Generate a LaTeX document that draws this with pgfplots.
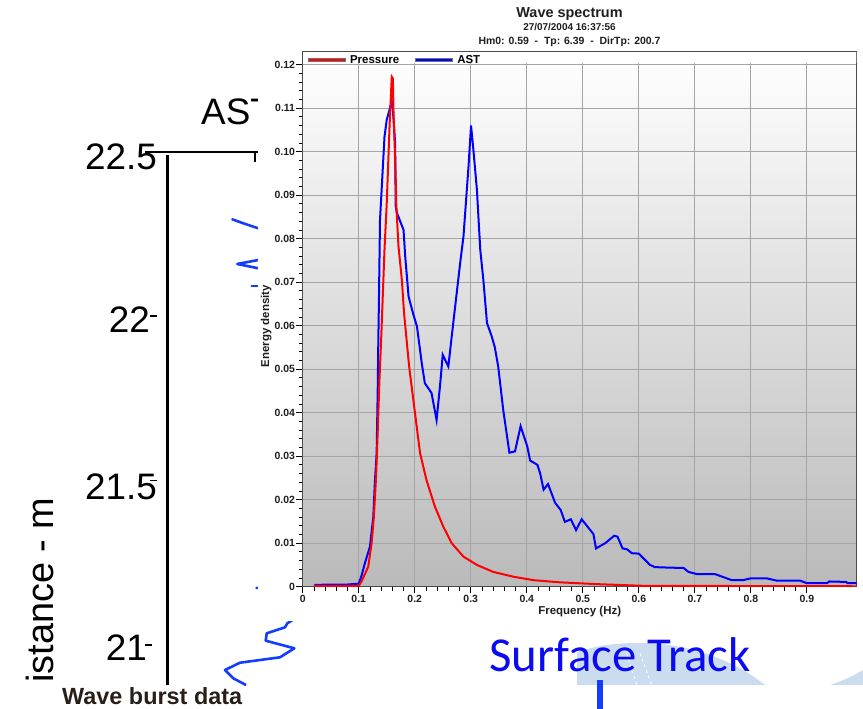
\documentclass[border=0pt]{standalone}
\usepackage{fontspec}
\setmainfont{Liberation Sans}
\newfontfamily\calibri{Carlito}
\usepackage{pgfplots}
\pgfplotsset{compat=1.18}
\definecolor{sqblue}{RGB}{20,60,255}
\definecolor{gridgray}{RGB}{165,165,165}
\definecolor{bggray}{RGB}{186,186,186}
\definecolor{lightblue}{RGB}{202,220,237}
\definecolor{txt}{RGB}{30,30,30}
\definecolor{burst}{RGB}{40,32,24}
\definecolor{surf}{RGB}{10,10,245}

\begin{document}
\begin{tikzpicture}[x=1bp,y=1bp]
\path[use as bounding box] (0,0) rectangle (863,709);
% ---- background slide ----
\fill[lightblue] (577,24) -- (577,57) .. controls (600,64) and (615,66) .. (640,66) .. controls (690,66) and (735,48) .. (765,24) -- cycle;
\fill[lightblue] (830,24) .. controls (845,29) and (855,34) .. (863,39) -- (863,24) -- cycle;
\draw[white, dashed, line width=0.8] (626.7,55.7) -- (636.7,24);
\draw[white, dashed, line width=0.8] (640,55.7) -- (651.7,24);
\fill[sqblue] (597,0) rectangle (603,29);
\node[anchor=base west, inner sep=0, text=surf, font=\calibri\fontsize{49}{49}\selectfont] at (489,37) {Surface Track};
\node[anchor=base west, inner sep=0, font=\fontsize{37}{37}\selectfont] at (201,584) {AST};
\node[rotate=90, anchor=base west, inner sep=0, font=\fontsize{38}{38}\selectfont] at (53,26) {istance - m};
\node[anchor=base west, inner sep=0, font=\bfseries\fontsize{23.5}{24}\selectfont, text=burst] at (62,4) {Wave burst data};

\begin{axis}[at={(0bp,0bp)}, anchor=south west, scale only axis, width=863bp, height=709bp,
  xmin=0, xmax=863, ymin=20.8054, ymax=22.9617, hide axis, clip=false]
  \addplot[sqblue, line width=2.6bp, line join=round, line cap=round] coordinates {(290,22.2470) (258.3,22.2673) (243.3,22.2825) (232.3,22.2947)};
  \addplot[sqblue, line width=2.6bp, line join=round, line cap=round] coordinates {(290,22.1831) (258.3,22.1709) (237.3,22.1588) (258.3,22.1457) (290,22.1344)};
  \addplot[sqblue, line width=2.6bp, line cap=round] coordinates {(290,22.0918) (251.7,22.0918)};
  \addplot[sqblue, line width=2.6bp, line cap=round] coordinates {(290,21.1825) (256.5,21.1734)};
  \addplot[sqblue, line width=2.6bp, line join=round] coordinates {(300,21.0912) (287.3,21.0660) (285,21.0538) (266.7,21.0356) (265.7,21.0131) (294.3,20.9900) (280,20.9626) (240,20.9462) (225,20.9240) (233.3,20.8987) (246,20.8783)};
  \draw[black, line width=2bp] (axis cs:145,22.5) -- (axis cs:300,22.5);
  \draw[black, line width=1.6bp] (axis cs:255,22.5) -- (axis cs:255,22.469);
  \draw[black, line width=2.2bp] (axis cs:167.5,22.4903) -- (axis cs:167.5,20.8783);
  \draw[black, line width=1.5bp] (axis cs:150,22) -- (axis cs:157,22);
  \draw[black, line width=1.5bp] (axis cs:150,21.5) -- (axis cs:157,21.5);
  \draw[black, line width=1.5bp] (axis cs:145,21) -- (axis cs:152,21);
  \node[anchor=east, inner sep=0, yshift=-5bp, font=\fontsize{37}{37}\selectfont] at (axis cs:157,22.5) {22.5};
  \node[anchor=east, inner sep=0, yshift=-3bp, font=\fontsize{37}{37}\selectfont] at (axis cs:150,22) {22};
  \node[anchor=east, inner sep=0, yshift=-6bp, font=\fontsize{37}{37}\selectfont] at (axis cs:157,21.5) {21.5};
  \node[anchor=east, inner sep=0, yshift=-3bp, font=\fontsize{37}{37}\selectfont] at (axis cs:147,21) {21};
\end{axis}

% ---- overlaid chart ----
\fill[white] (258,88) rectangle (863,709);
\node[anchor=base, inner sep=0, font=\bfseries\fontsize{14.5}{15}\selectfont, text=txt] at (569.5,691.5) {Wave spectrum};
\node[anchor=base, inner sep=0, font=\bfseries\fontsize{10}{10}\selectfont, text=txt] at (569.5,678.5) {27/07/2004 16:37:56};
\node[anchor=base, inner sep=0, font=\bfseries\fontsize{10.5}{10.5}\selectfont, text=txt] at (569.5,664.5) {Hm0: 0.59\ \ -\ \ Tp: 6.39\ \ -\ \ DirTp: 200.7};

\begin{axis}[
  at={(302.7bp,122.3bp)}, anchor=south west, scale only axis, width=554bp, height=534.7bp,
  xmin=0, xmax=0.989, ymin=0, ymax=0.1229,
  xtick={0,0.1,0.2,0.3,0.4,0.5,0.6,0.7,0.8,0.9},
  xticklabels={0,0.1,0.2,0.3,0.4,0.5,0.6,0.7,0.8,0.9},
  ytick={0,0.01,0.02,0.03,0.04,0.05,0.06,0.07,0.08,0.09,0.10,0.11,0.12},
  yticklabels={0,0.01,0.02,0.03,0.04,0.05,0.06,0.07,0.08,0.09,0.10,0.11,0.12},
  minor x tick num=4, minor y tick num=4,
  xtick pos=left, ytick pos=left,
  tick align=outside, major tick length=6.5bp, minor tick length=4bp,
  every tick/.style={black, line width=0.8bp},
  grid=major, major grid style={gridgray, line width=0.9bp},
  axis background/.style={top color=white, bottom color=bggray},
  axis line style={black!70, line width=1bp},
  tick label style={font=\bfseries\fontsize{10.5}{11}\selectfont, text=txt},
  xticklabel style={inner sep=1.5bp},
  yticklabel style={inner sep=1bp},
  xlabel={Frequency (Hz)}, ylabel={Energy density},
  label style={font=\bfseries\fontsize{11.5}{12}\selectfont, text=txt},
  ylabel style={at={(ticklabel cs:0.487)}, inner sep=2bp},
  xlabel style={inner sep=2bp},
  legend style={at={(rel axis cs:0,1)}, anchor=north west, xshift=2bp, draw=none, fill=none,
    legend columns=2, font=\bfseries\fontsize{11.5}{12}\selectfont, inner xsep=1bp, inner ysep=1bp,
    /tikz/every even column/.append style={column sep=12bp}},
  legend cell align=left,
]
\addlegendimage{legend image code/.code={\draw[black!55, line width=4.2bp] (0bp,0bp) -- (38bp,0bp); \draw[red, line width=2.6bp] (0.8bp,0bp) -- (37.2bp,0bp);}}
\addlegendentry{Pressure}
\addlegendimage{legend image code/.code={\draw[black!55, line width=4.2bp] (0bp,0bp) -- (38bp,0bp); \draw[blue, line width=2.6bp] (0.8bp,0bp) -- (37.2bp,0bp);}}
\addlegendentry{AST}
\fill[white] (rel axis cs:0,1) rectangle (axis cs:0.989,0.1203);
\draw[black!70, line width=1bp] (rel axis cs:0,0) -- (rel axis cs:0,1) -- (rel axis cs:1,1) -- (rel axis cs:1,0);
% AST
\addplot[blue, line width=2bp, forget plot] coordinates {
(0.021,0.0004) (0.05,0.0005) (0.08,0.0005) (0.1,0.0007) (0.105,0.0025) (0.111,0.0054)
(0.12,0.0092) (0.126,0.016) (0.129,0.0245) (0.132,0.0307) (0.134,0.046) (0.135,0.0567)
(0.136,0.065) (0.138,0.0843) (0.146,0.1034) (0.15,0.1073) (0.159,0.1115) (0.161,0.1095)
(0.165,0.102) (0.166,0.0874) (0.168,0.086) (0.18,0.082) (0.183,0.0759) (0.189,0.0667)
(0.197,0.0628) (0.204,0.0598) (0.2125,0.0514) (0.218,0.0468) (0.23,0.0445) (0.239,0.0383)
(0.245,0.046) (0.25,0.0533) (0.26,0.0506) (0.266,0.0575) (0.281,0.0743) (0.287,0.0805)
(0.296,0.0966) (0.3005,0.106) (0.305,0.100) (0.311,0.0912) (0.317,0.0774) (0.3225,0.0705)
(0.329,0.0606) (0.3375,0.0575) (0.343,0.055) (0.349,0.0506) (0.358,0.0406) (0.369,0.0308)
(0.379,0.0311) (0.389,0.0369) (0.401,0.0322) (0.406,0.029) (0.419,0.028) (0.424,0.026)
(0.43,0.0223) (0.438,0.0236) (0.4505,0.0193) (0.4607,0.0176) (0.468,0.0149) (0.4786,0.0155)
(0.488,0.013) (0.498,0.0155) (0.519,0.0121) (0.5236,0.0088) (0.54,0.01) (0.556,0.0117)
(0.562,0.0115) (0.571,0.0088) (0.579,0.0086) (0.5875,0.0077) (0.6,0.0076) (0.62,0.005)
(0.629,0.0045) (0.65,0.0044) (0.68,0.0043) (0.6887,0.0034) (0.7036,0.0029) (0.736,0.0029)
(0.751,0.0022) (0.766,0.0015) (0.786,0.0015) (0.799,0.0019) (0.829,0.0019) (0.846,0.0014)
(0.888,0.0014) (0.9,0.0008) (0.936,0.0008) (0.94,0.0012) (0.97,0.0011) (0.973,0.0008) (0.989,0.0008)
};
% Pressure
\addplot[red, line width=2bp, forget plot] coordinates {
(0.02,0.0002) (0.1,0.0002) (0.105,0.0012) (0.117,0.0046) (0.123,0.01) (0.127,0.016)
(0.131,0.0253) (0.134,0.036) (0.137,0.0475) (0.14,0.0567) (0.144,0.0705) (0.146,0.0774)
(0.15,0.0881) (0.155,0.1057) (0.159,0.1172) (0.161,0.1168) (0.162,0.1096) (0.166,0.0943)
(0.167,0.088) (0.171,0.0782) (0.177,0.0705) (0.181,0.0628) (0.186,0.056) (0.19,0.0506)
(0.199,0.0414) (0.2095,0.0307) (0.221,0.0245) (0.236,0.0184) (0.251,0.0138) (0.266,0.01)
(0.287,0.0069) (0.311,0.005) (0.34,0.0034) (0.376,0.0023) (0.412,0.0015) (0.44,0.0012)
(0.46,0.001) (0.523,0.0006) (0.608,0.0002) (0.989,0.0001)
};
\end{axis}
\end{tikzpicture}
\end{document}
